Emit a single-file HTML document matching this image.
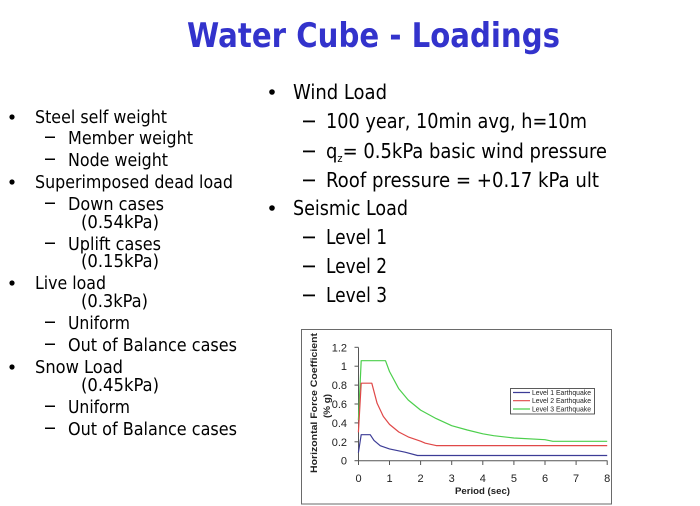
<!DOCTYPE html>
<html>
<head>
<meta charset="utf-8">
<style>
  html, body { margin: 0; padding: 0; background: #ffffff; }
  svg { display: block; }
  .ti { font-family: "DejaVu Sans", "Liberation Sans", sans-serif; font-weight: bold; }
  .bd { font-family: "DejaVu Sans Condensed", "DejaVu Sans", "Liberation Sans", sans-serif; fill: #000; }
  .ch { font-family: "Liberation Sans", "DejaVu Sans", sans-serif; fill: #222; }
</style>
</head>
<body>
<svg width="700" height="506" viewBox="0 0 700 506" xmlns="http://www.w3.org/2000/svg">
  <rect x="0" y="0" width="700" height="506" fill="#ffffff"/>

  <!-- Title -->
  <text class="ti" x="187" y="47" font-size="34" fill="#3333cc" textLength="373" lengthAdjust="spacingAndGlyphs">Water Cube - Loadings</text>

  <!-- Left list -->
  <g class="bd" font-size="18">
    <circle cx="12" cy="117" r="2.6" fill="#000"/>
    <text x="35" y="123" textLength="132" lengthAdjust="spacingAndGlyphs">Steel self weight</text>
    <rect x="45" y="136.5" width="10" height="1.5" fill="#000"/>
    <text x="68" y="144" textLength="125" lengthAdjust="spacingAndGlyphs">Member weight</text>
    <rect x="45" y="158.5" width="10" height="1.5" fill="#000"/>
    <text x="68" y="166" textLength="100" lengthAdjust="spacingAndGlyphs">Node weight</text>
    <circle cx="12" cy="182" r="2.6" fill="#000"/>
    <text x="35" y="188" textLength="198" lengthAdjust="spacingAndGlyphs">Superimposed dead load</text>
    <rect x="45" y="202.5" width="10" height="1.5" fill="#000"/>
    <text x="68" y="210" textLength="96" lengthAdjust="spacingAndGlyphs">Down cases</text>
    <text x="81" y="228" textLength="78" lengthAdjust="spacingAndGlyphs">(0.54kPa)</text>
    <rect x="45" y="242.5" width="10" height="1.5" fill="#000"/>
    <text x="68" y="250" textLength="93" lengthAdjust="spacingAndGlyphs">Uplift cases</text>
    <text x="81" y="267" textLength="78" lengthAdjust="spacingAndGlyphs">(0.15kPa)</text>
    <circle cx="12" cy="283" r="2.6" fill="#000"/>
    <text x="35" y="289" textLength="71" lengthAdjust="spacingAndGlyphs">Live load</text>
    <text x="81" y="307" textLength="67" lengthAdjust="spacingAndGlyphs">(0.3kPa)</text>
    <rect x="45" y="321.5" width="10" height="1.5" fill="#000"/>
    <text x="68" y="329" textLength="62" lengthAdjust="spacingAndGlyphs">Uniform</text>
    <rect x="45" y="343.5" width="10" height="1.5" fill="#000"/>
    <text x="68" y="351" textLength="169" lengthAdjust="spacingAndGlyphs">Out of Balance cases</text>
    <circle cx="12" cy="367" r="2.6" fill="#000"/>
    <text x="35" y="373" textLength="88" lengthAdjust="spacingAndGlyphs">Snow Load</text>
    <text x="81" y="391" textLength="78" lengthAdjust="spacingAndGlyphs">(0.45kPa)</text>
    <rect x="45" y="405.5" width="10" height="1.5" fill="#000"/>
    <text x="68" y="413" textLength="62" lengthAdjust="spacingAndGlyphs">Uniform</text>
    <rect x="45" y="427.5" width="10" height="1.5" fill="#000"/>
    <text x="68" y="435" textLength="169" lengthAdjust="spacingAndGlyphs">Out of Balance cases</text>
  </g>

  <!-- Right list -->
  <g class="bd" font-size="20">
    <circle cx="272" cy="92" r="2.8" fill="#000"/>
    <text x="293" y="99" textLength="94" lengthAdjust="spacingAndGlyphs">Wind Load</text>
    <rect x="303" y="120.5" width="12" height="1.8" fill="#000"/>
    <text x="326" y="128" textLength="261" lengthAdjust="spacingAndGlyphs">100 year, 10min avg, h=10m</text>
    <rect x="303" y="150.5" width="12" height="1.8" fill="#000"/>
    <text x="326" y="158" textLength="281" lengthAdjust="spacingAndGlyphs">q<tspan font-size="11" dy="4">z</tspan><tspan dy="-4">= 0.5kPa basic wind pressure</tspan></text>
    <rect x="303" y="179.5" width="12" height="1.8" fill="#000"/>
    <text x="326" y="187" textLength="273" lengthAdjust="spacingAndGlyphs">Roof pressure = +0.17 kPa ult</text>
    <circle cx="272" cy="208" r="2.8" fill="#000"/>
    <text x="293" y="215" textLength="115" lengthAdjust="spacingAndGlyphs">Seismic Load</text>
    <rect x="303" y="236.5" width="12" height="1.8" fill="#000"/>
    <text x="326" y="244" textLength="61" lengthAdjust="spacingAndGlyphs">Level 1</text>
    <rect x="303" y="265.5" width="12" height="1.8" fill="#000"/>
    <text x="326" y="273" textLength="61" lengthAdjust="spacingAndGlyphs">Level 2</text>
    <rect x="303" y="294.5" width="12" height="1.8" fill="#000"/>
    <text x="326" y="302" textLength="61" lengthAdjust="spacingAndGlyphs">Level 3</text>
  </g>

  <!-- Chart frame -->
  <rect x="301.5" y="329.5" width="310" height="174.5" fill="#ffffff" stroke="#6a6a6a" stroke-width="1"/>

  <!-- Axes -->
  <g stroke="#555" stroke-width="1" fill="none">
    <line x1="358.5" y1="347.5" x2="358.5" y2="461"/>
    <line x1="358.5" y1="460.7" x2="607.5" y2="460.7"/>
    <line x1="354.5" y1="347.3" x2="358.5" y2="347.3"/>
    <line x1="354.5" y1="366.2" x2="358.5" y2="366.2"/>
    <line x1="354.5" y1="385.1" x2="358.5" y2="385.1"/>
    <line x1="354.5" y1="404.0" x2="358.5" y2="404.0"/>
    <line x1="354.5" y1="422.9" x2="358.5" y2="422.9"/>
    <line x1="354.5" y1="441.8" x2="358.5" y2="441.8"/>
    <line x1="354.5" y1="460.7" x2="358.5" y2="460.7"/>
    <line x1="358.5" y1="460.7" x2="358.5" y2="465"/>
    <line x1="389.5" y1="460.7" x2="389.5" y2="465"/>
    <line x1="420.6" y1="460.7" x2="420.6" y2="465"/>
    <line x1="451.7" y1="460.7" x2="451.7" y2="465"/>
    <line x1="482.8" y1="460.7" x2="482.8" y2="465"/>
    <line x1="513.9" y1="460.7" x2="513.9" y2="465"/>
    <line x1="545.0" y1="460.7" x2="545.0" y2="465"/>
    <line x1="576.1" y1="460.7" x2="576.1" y2="465"/>
    <line x1="607.2" y1="460.7" x2="607.2" y2="465"/>
  </g>

  <!-- Y tick labels -->
  <g class="ch" font-size="11" text-anchor="end">
    <text x="347" y="351.3">1.2</text>
    <text x="347" y="370.2">1</text>
    <text x="347" y="389.1">0.8</text>
    <text x="347" y="408.0">0.6</text>
    <text x="347" y="426.9">0.4</text>
    <text x="347" y="445.8">0.2</text>
    <text x="347" y="464.7">0</text>
  </g>
  <!-- X tick labels -->
  <g class="ch" font-size="11" text-anchor="middle">
    <text x="358.5" y="482">0</text>
    <text x="389.5" y="482">1</text>
    <text x="420.6" y="482">2</text>
    <text x="451.7" y="482">3</text>
    <text x="482.8" y="482">4</text>
    <text x="513.9" y="482">5</text>
    <text x="545.0" y="482">6</text>
    <text x="576.1" y="482">7</text>
    <text x="607.2" y="482">8</text>
  </g>

  <!-- Axis titles -->
  <text class="ch" x="482.5" y="494" font-size="9.5" font-weight="bold" text-anchor="middle" textLength="55" lengthAdjust="spacingAndGlyphs">Period (sec)</text>
  <text class="ch" font-size="9.5" font-weight="bold" text-anchor="middle" transform="translate(317,403) rotate(-90)" textLength="140" lengthAdjust="spacingAndGlyphs">Horizontal Force Coefficient</text>
  <text class="ch" font-size="9.5" font-weight="bold" text-anchor="middle" transform="translate(330,406) rotate(-90)" textLength="24" lengthAdjust="spacingAndGlyphs">(% g)</text>

  <!-- Series -->
  <g fill="none" stroke-width="1.2" stroke-linejoin="round">
    <polyline stroke="#4ccf4c" points="358.4,420.1 361.2,360.7 385.5,360.7 389.5,371.5 398.8,388.8 408.2,400.0 420.6,410.1 436.2,418.6 451.7,425.7 467.3,430.0 482.8,433.8 493.7,435.7 513.9,438.0 545.0,439.7 552.8,441.3 607.2,441.3"/>
    <polyline stroke="#e04848" points="358.4,432.3 361.2,383.2 371.8,383.2 377.1,403.3 383.3,416.4 389.5,424.4 398.8,432.0 408.2,436.9 420.6,441.2 425.3,443.2 436.2,445.6 607.2,445.6"/>
    <polyline stroke="#3c3c96" points="358.4,452.7 361.2,434.7 370.2,434.7 374.0,440.4 380.2,445.7 389.5,448.9 405.1,452.2 417.5,455.5 607.2,455.5"/>
  </g>

  <!-- Legend -->
  <rect x="510.5" y="388.5" width="84" height="25.5" fill="#ffffff" stroke="#333" stroke-width="0.8"/>
  <line x1="513" y1="392.5" x2="530" y2="392.5" stroke="#3c3c96" stroke-width="1.2"/>
  <line x1="513" y1="400.7" x2="530" y2="400.7" stroke="#e04848" stroke-width="1.2"/>
  <line x1="513" y1="409" x2="530" y2="409" stroke="#4ccf4c" stroke-width="1.2"/>
  <g class="ch" font-size="7.2">
    <text x="532" y="395" textLength="59" lengthAdjust="spacingAndGlyphs">Level 1 Earthquake</text>
    <text x="532" y="403.2" textLength="59" lengthAdjust="spacingAndGlyphs">Level 2 Earthquake</text>
    <text x="532" y="411.5" textLength="59" lengthAdjust="spacingAndGlyphs">Level 3 Earthquake</text>
  </g>
</svg>
</body>
</html>
